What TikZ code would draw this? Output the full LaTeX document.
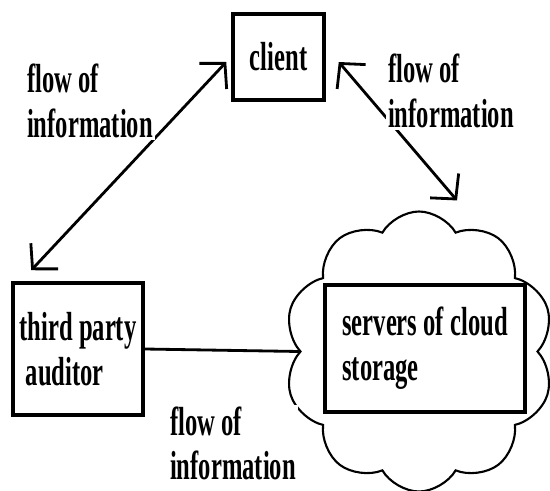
\documentclass[tikz,border=0pt]{standalone}
\usepackage{fontspec}
\usepackage{graphicx}
\setmainfont{Liberation Serif}
\usetikzlibrary{arrows.meta,shapes.symbols}
\newcommand{\tallbox}[1]{\scalebox{1}[1.65]{\vtop{\baselineskip=15.5pt\let\\\cr\halign{##\hfil\cr#1\crcr}}}}
\tikzset{
    box/.style={draw, line width=2pt, inner sep=0pt},
    lbl/.style={anchor=base west, inner sep=1pt, fill=white},
    flow/.style={line width=1.6pt, {Straight Barb[length=0.35cm,width=0.75cm]}-{Straight Barb[length=0.35cm,width=0.75cm]}}
}
\begin{document}
\begin{tikzpicture}[font=\bfseries\fontsize{14}{15.5}\selectfont]
            \useasboundingbox (0,0) rectangle (11,-9.82);
            % boxes
            \node[box, minimum width=1.82cm, minimum height=1.72cm] (client) at (5.57,-1.14) {\tallbox{client}};
            \node[box, minimum width=2.6cm, minimum height=2.64cm] (tpa) at (1.56,-6.98) {\tallbox{third party\\\ auditor}};
            \node[draw, line width=1.2pt, cloud, cloud puffs=10, cloud puff arc=120, cloud ignores aspect,
                  minimum width=5.4cm, minimum height=5.6cm] (cloud) at (8.38,-7.03) {};
            \node[box, minimum width=4cm, minimum height=2.54cm] (servers) at (8.5,-6.97) {\tallbox{servers of cloud\\storage}};

            % connectors
            \draw[flow] ([shift={(-0.1,-0.1)}]client.west) -- ([shift={(0.4,0.22)}]tpa.north west);
            \draw[flow] ([shift={(0.26,-0.1)}]client.east) -- ([shift={(0.76,0.2)}]cloud.north);
            \draw[line width=1.6pt] (tpa.east) -- (cloud.west);

            % labels
            \node[lbl] (flowa) at (0.5,-1.86) {\tallbox{flow of\\information}};
            \node[lbl] (flowb) at (7.72,-1.66) {\tallbox{flow of\\information}};
            \node[lbl] (flowc) at (3.36,-8.7) {\tallbox{flow of\\information}};
        \end{tikzpicture}
\end{document}
